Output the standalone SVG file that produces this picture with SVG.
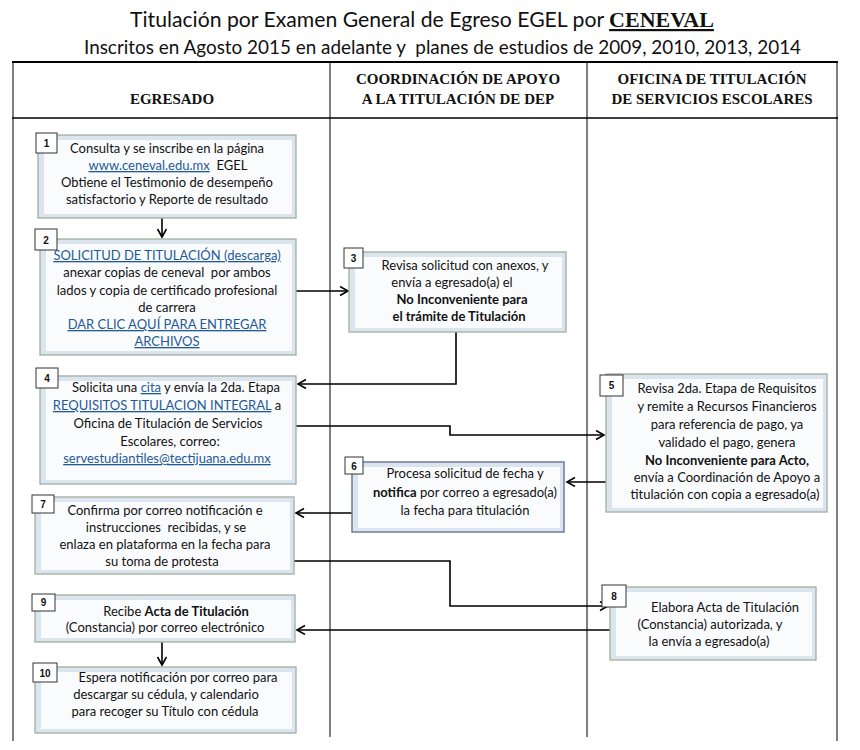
<svg xmlns="http://www.w3.org/2000/svg" width="860" height="750" viewBox="0 0 860 750">
<defs>
<marker id="arr" markerUnits="userSpaceOnUse" markerWidth="12" markerHeight="12" refX="9" refY="5" orient="auto">
<path d="M1,0.5 L9,5 L1,9.5" fill="none" stroke="#000" stroke-width="1.6"/>
</marker>
<linearGradient id="bot" x1="0" y1="0" x2="1" y2="0">
<stop offset="0" stop-color="#222"/><stop offset="0.5" stop-color="#888"/><stop offset="1" stop-color="#333"/>
</linearGradient>
</defs>
<style>
.title{font-family:Lato,"Open Sans",sans-serif;fill:#111;white-space:pre}
.hdr{font-family:"Liberation Serif",serif;font-weight:bold;font-size:15px;fill:#111;text-anchor:middle}
.box{fill:#dbe5f0;stroke:#a3ae9f;stroke-width:1.3}
.box6{fill:#dbe5f0;stroke:#6f7c98;stroke-width:1.5}
.inner{fill:#fafbfd}
.tag{fill:#fff;stroke:#333;stroke-width:1}
.num{font-family:"Liberation Sans",sans-serif;font-weight:bold;font-size:10px;fill:#111;text-anchor:middle}
.t{font-family:Lato,"Open Sans",sans-serif;font-size:13px;fill:#111;text-anchor:middle;white-space:pre}
.lk{fill:#1f5a96;text-decoration:underline}
.b{font-weight:bold}
.con{fill:none;stroke:#000;stroke-width:1.6;marker-end:url(#arr)}
.grid{stroke:#000;stroke-width:1;fill:none}
</style>
<rect width="860" height="750" fill="#fff"/>
<text class="title" x="130" y="27" font-size="21.2">Titulación por Examen General de Egreso EGEL por <tspan font-family="Liberation Serif,serif" font-weight="bold" font-size="22" text-decoration="underline">CENEVAL</tspan></text>
<text class="title" x="84" y="54" font-size="18.9">Inscritos en Agosto 2015 en adelante y  planes de estudios de 2009, 2010, 2013, 2014</text>
<g id="table">
<line x1="12" y1="62" x2="838" y2="62" stroke="#000" stroke-width="2"/>
<line x1="12" y1="118" x2="838" y2="118" stroke="#000" stroke-width="1.5"/>
<line class="grid" x1="13" y1="62" x2="13" y2="741"/>
<line class="grid" x1="837" y1="62" x2="837" y2="741"/>
<line class="grid" x1="330" y1="62" x2="330" y2="737"/>
<line class="grid" x1="587" y1="62" x2="587" y2="737"/>
<line x1="13" y1="741" x2="838" y2="741" stroke="url(#bot)" stroke-width="2"/>
<text class="hdr" x="172" y="104">EGRESADO</text>
<text class="hdr" x="458" y="84">COORDINACIÓN DE APOYO</text>
<text class="hdr" x="458" y="104">A LA TITULACIÓN DE DEP</text>
<text class="hdr" x="712" y="84">OFICINA DE TITULACIÓN</text>
<text class="hdr" x="712" y="104">DE SERVICIOS ESCOLARES</text>
</g>
<g id="connectors">
<path class="con" d="M162,218 V237"/>
<path class="con" d="M296,291 H348"/>
<path class="con" d="M456,332 V384 H298"/>
<path class="con" d="M296,426 H450 V435 H604"/>
<path class="con" d="M606,482 H567"/>
<path class="con" d="M352,513 H296"/>
<path class="con" d="M294,561 H450 V606 H608"/>
<path class="con" d="M610,630 H297"/>
<path class="con" d="M162,642 V665"/>
</g>
<g id="n1">
<rect class="box" x="38" y="135" width="258" height="83"/>
<rect class="inner" x="44" y="140" width="248" height="74"/>
<rect class="tag" x="36" y="133" width="21" height="20"/>
<text class="num" x="46.5" y="147">1</text>
<text class="t" x="167" y="153">Consulta y se inscribe en la página</text>
<text class="t" x="168" y="170"><tspan class="lk">www.ceneval.edu.mx</tspan>  EGEL</text>
<text class="t" x="167" y="187">Obtiene el Testimonio de desempeño</text>
<text class="t" x="167" y="204">satisfactorio y Reporte de resultado</text>
</g>
<g id="n2">
<rect class="box" x="40" y="239" width="256" height="116"/>
<rect class="inner" x="46" y="244" width="246" height="107"/>
<rect class="tag" x="35" y="229" width="22" height="21"/>
<text class="num" x="46" y="244">2</text>
<text class="t lk" x="167" y="260">SOLICITUD DE TITULACIÓN (descarga)</text>
<text class="t" x="167" y="277">anexar copias de ceneval  por ambos</text>
<text class="t" x="167" y="295">lados y copia de certificado profesional</text>
<text class="t" x="167" y="312">de carrera</text>
<text class="t lk" x="167" y="329">DAR CLIC AQUÍ PARA ENTREGAR</text>
<text class="t lk" x="167" y="346">ARCHIVOS</text>
</g>
<g id="n3">
<rect class="box" x="349" y="252" width="217" height="80"/>
<rect class="inner" x="355" y="257" width="207" height="71"/>
<rect class="tag" x="344" y="248" width="19" height="20"/>
<text class="num" x="353.5" y="262">3</text>
<text class="t" x="465" y="270">Revisa solicitud con anexos, y</text>
<text class="t" x="452" y="287">envía a egresado(a) el</text>
<text class="t b" x="462" y="304">No Inconveniente para</text>
<text class="t b" x="459" y="321">el trámite de Titulación</text>
</g>
<g id="n4">
<rect class="box" x="40" y="376" width="256" height="108"/>
<rect class="inner" x="46" y="381" width="246" height="99"/>
<rect class="tag" x="36" y="368" width="22" height="20"/>
<text class="num" x="47" y="382">4</text>
<text class="t" x="176" y="392">Solicita una <tspan class="lk">cita</tspan> y envía la 2da. Etapa</text>
<text class="t" x="167" y="410"><tspan class="lk">REQUISITOS TITULACION INTEGRAL</tspan> a</text>
<text class="t" x="168" y="428">Oficina de Titulación de Servicios</text>
<text class="t" x="170" y="446">Escolares, correo:</text>
<text class="t lk" x="167" y="463">servestudiantiles@tectijuana.edu.mx</text>
</g>
<g id="n5">
<rect class="box" x="606" y="374" width="221" height="138"/>
<rect class="inner" x="612" y="379" width="211" height="129"/>
<rect class="tag" x="600" y="375" width="23" height="21"/>
<text class="num" x="611.5" y="389">5</text>
<text class="t" x="727" y="393">Revisa 2da. Etapa de Requisitos</text>
<text class="t" x="727" y="411">y remite a Recursos Financieros</text>
<text class="t" x="727" y="429">para referencia de pago, ya</text>
<text class="t" x="727" y="447">validado el pago, genera</text>
<text class="t b" x="727" y="465">No Inconveniente para Acto,</text>
<text class="t" x="727" y="482">envía a Coordinación de Apoyo a</text>
<text class="t" x="725" y="499">titulación con copia a egresado(a)</text>
</g>
<g id="n6">
<rect class="box6" x="352" y="462" width="212" height="70"/>
<rect class="inner" x="358" y="467" width="202" height="61"/>
<rect class="tag" x="345" y="457" width="18" height="17"/>
<text class="num" x="354" y="469.5">6</text>
<text class="t" x="465" y="478">Procesa solicitud de fecha y</text>
<text class="t" x="465" y="497"><tspan class="b">notifica</tspan> por correo a egresado(a)</text>
<text class="t" x="465" y="515">la fecha para titulación</text>
</g>
<g id="n7">
<rect class="box" x="35" y="497" width="259" height="77"/>
<rect class="inner" x="41" y="502" width="249" height="68"/>
<rect class="tag" x="32" y="495" width="22" height="18"/>
<text class="num" x="43" y="508">7</text>
<text class="t" x="165" y="515">Confirma por correo notificación e</text>
<text class="t" x="166" y="532">instrucciones  recibidas, y se</text>
<text class="t" x="165" y="549">enlaza en plataforma en la fecha para</text>
<text class="t" x="162" y="566">su toma de protesta</text>
</g>
<g id="n8">
<rect class="box" x="610" y="587" width="206" height="73"/>
<rect class="inner" x="616" y="592" width="196" height="64"/>
<rect class="tag" x="602" y="585" width="24" height="22"/>
<text class="num" x="614" y="600">8</text>
<text class="t" x="725" y="612">Elabora Acta de Titulación</text>
<text class="t" x="710" y="629">(Constancia) autorizada, y</text>
<text class="t" x="709" y="646">la envía a egresado(a)</text>
</g>
<g id="n9">
<rect class="box" x="35" y="595" width="260" height="47"/>
<rect class="inner" x="41" y="600" width="250" height="38"/>
<rect class="tag" x="32" y="594" width="23" height="17"/>
<text class="num" x="43.5" y="606">9</text>
<text class="t" x="176" y="616">Recibe <tspan class="b">Acta de Titulación</tspan></text>
<text class="t" x="165" y="632">(Constancia) por correo electrónico</text>
</g>
<g id="n10">
<rect class="box" x="35" y="667" width="261" height="66"/>
<rect class="inner" x="41" y="672" width="251" height="57"/>
<rect class="tag" x="33" y="663" width="24" height="19"/>
<text class="num" x="45" y="676.5">10</text>
<text class="t" x="178" y="682">Espera notificación por correo para</text>
<text class="t" x="166" y="699">descargar su cédula, y calendario</text>
<text class="t" x="165" y="716">para recoger su Título con cédula</text>
</g>
</svg>
